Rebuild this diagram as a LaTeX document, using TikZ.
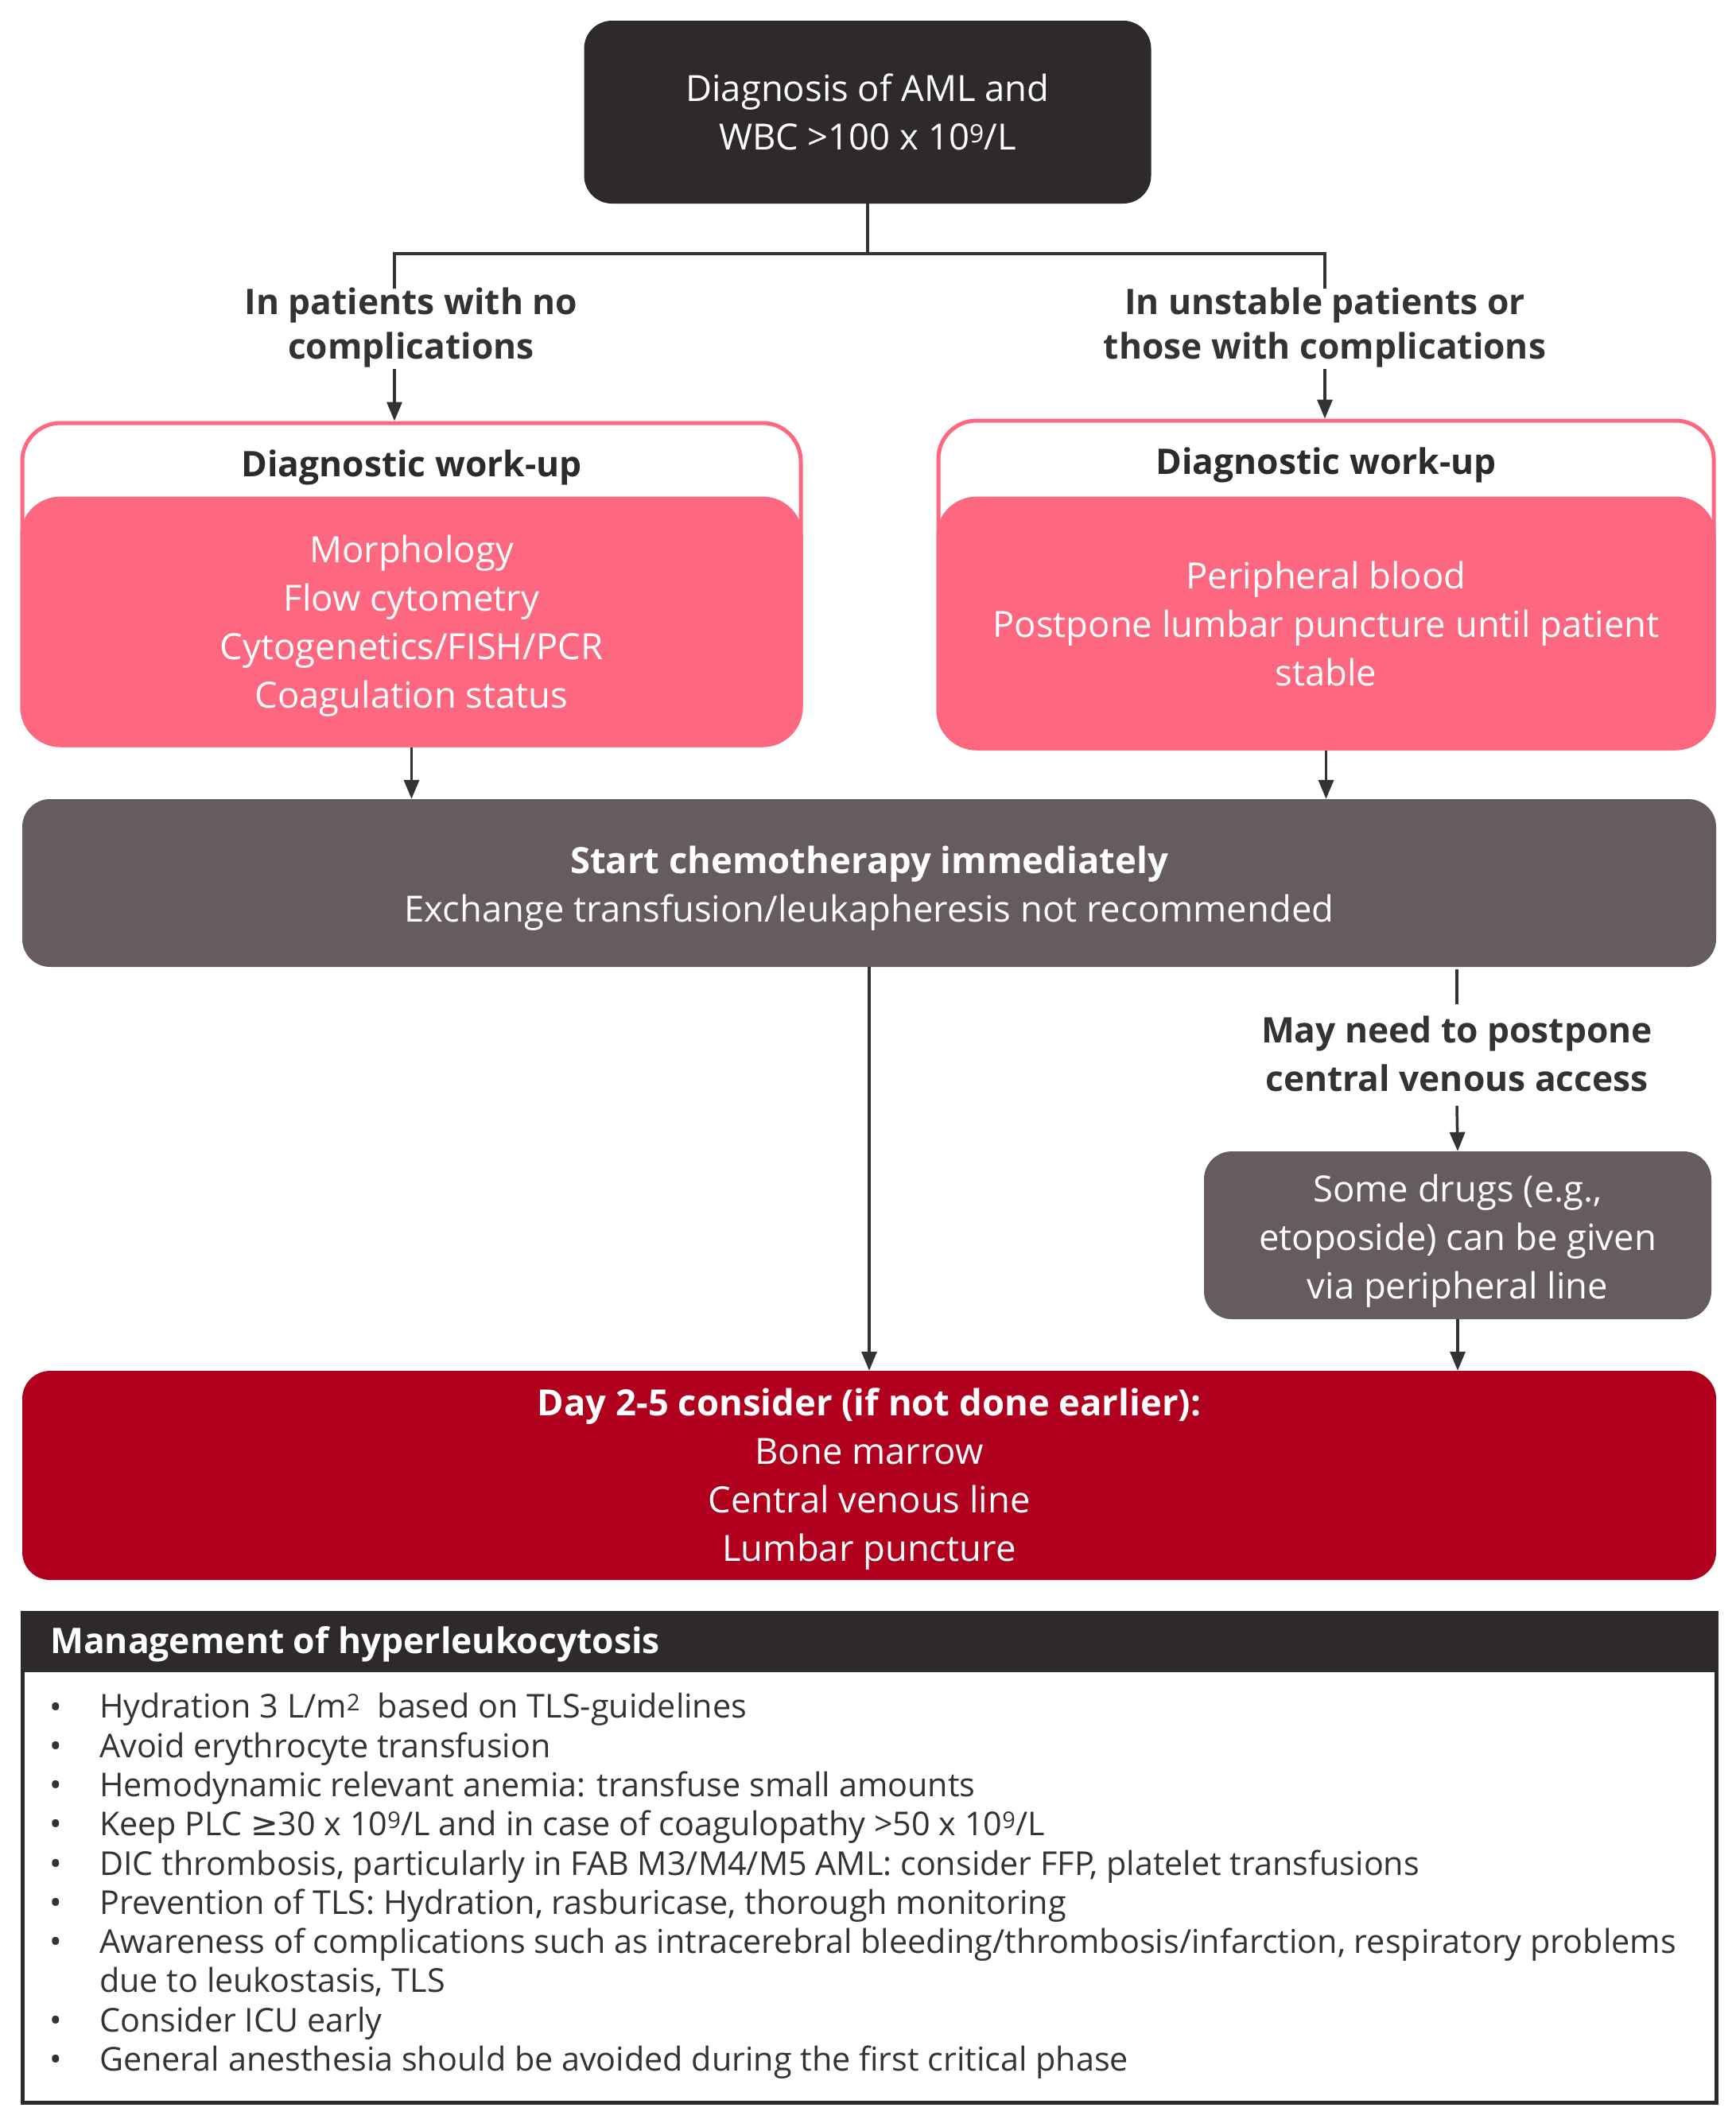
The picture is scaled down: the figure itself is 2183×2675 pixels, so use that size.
\documentclass[tikz,border=0pt]{standalone}
\usepackage{fontspec}
\setmainfont{Open Sans}
\newfontfamily\symfont{DejaVu Sans}
\usetikzlibrary{arrows.meta}

\definecolor{boxdark}{HTML}{2E2A2B}
\definecolor{wupink}{HTML}{FD6780}
\definecolor{chemogray}{HTML}{655B60}
\definecolor{dayred}{HTML}{B0001E}
\definecolor{linegray}{HTML}{333333}

% taller first line, pushes a box text down a little
\newcommand{\padtop}[1]{\rule{0pt}{#1}}

\tikzset{
  boxtxt/.style={font=\fontsize{45.4}{61}\selectfont},
  flowbox/.style={boxtxt, rounded corners=35pt, text=white, align=center, inner sep=0pt},
  wuouter/.style={draw=wupink, line width=5pt, fill=white, rounded corners=48pt, inner sep=0pt},
  wubody/.style={flowbox, draw=wupink, line width=5pt, fill=wupink, rounded corners=48pt},
  steplabel/.style={font=\fontsize{44.3}{56}\selectfont\bfseries, text=linegray, align=center, inner sep=0pt},
  connline/.style={draw=linegray, line width=3.5pt},
  connarrow/.style={connline, -{Triangle[length=24pt,width=19pt]}},
  itemtxt/.style={font=\fontsize{41.3}{49}\selectfont, text=linegray, inner sep=0pt},
}

\begin{document}
\begin{tikzpicture}[x=1pt, y=-1pt]
  \useasboundingbox[fill=white] (0,0) rectangle (2183,2675);

  % top box
  \node[flowbox, fill=boxdark, minimum width=713pt, minimum height=230pt] (diag) at (1091,141)
    {Diagnosis of AML and\\WBC >100 x 10\textsuperscript{9}/L};

  % branch
  \coordinate (brL) at (496,319);
  \coordinate (brR) at (1666,319);
  \node[steplabel, minimum height=109pt] (lblL) at (517,412) {In patients with no\\complications};
  \node[steplabel, minimum height=109pt] (lblR) at (1666,412) {In unstable patients or\\those with complications};
  \draw[connline] (diag.south) -- (diag.south |- brL);
  \draw[connline] ([yshift=-6pt]lblL.north -| brL) -- (brL) -- (brR) -- ([yshift=-6pt]lblR.north -| brR);

  % diagnostic work-up boxes
  \node[wuouter, minimum width=979pt, minimum height=405pt] (wuL) at (517.5,734.5) {};
  \node[wubody, minimum width=979pt, minimum height=310pt] (wuLbody) at (517.5,782)
    {\padtop{44.5pt}Morphology\\Flow cytometry\\Cytogenetics/FISH/PCR\\Coagulation status};
  \node[steplabel, text=boxdark] (wuLhead) at (517.5,588) {Diagnostic work-up};

  \node[wuouter, minimum width=975pt, minimum height=412pt] (wuR) at (1667.5,735) {};
  \node[wubody, minimum width=975pt, minimum height=314pt] (wuRbody) at (1667.5,784)
    {Peripheral blood\\Postpone lumbar puncture until patient\\stable};
  \node[steplabel, text=boxdark] (wuRhead) at (1667.5,585) {Diagnostic work-up};

  \draw[connarrow] ([yshift=3pt]lblL.south -| brL) -- (wuL.north -| brL);
  \draw[connarrow] ([yshift=3pt]lblR.south -| brR) -- (wuR.north -| brR);

  % chemotherapy
  \node[flowbox, fill=chemogray, minimum width=2130pt, minimum height=211pt] (chemo) at (1093,1110.5)
    {\padtop{48.5pt}\textbf{Start chemotherapy immediately}\\Exchange transfusion/leukapheresis not recommended};
  \draw[connarrow] (wuLbody.south) -- (wuLbody.south |- chemo.north);
  \draw[connarrow] (wuRbody.south) -- (wuRbody.south |- chemo.north);

  % venous access
  \node[steplabel, font=\fontsize{44.3}{61}\selectfont\bfseries, minimum height=127pt] (venous) at (1832,1325)
    {May need to postpone\\central venous access};
  \node[flowbox, fill=chemogray, minimum width=638pt, minimum height=211pt] (drugs) at (1833,1553.5)
    {\padtop{48.5pt}Some drugs (e.g.,\\etoposide) can be given\\via peripheral line};
  \draw[connline] ([yshift=-3pt]chemo.south -| venous.north) -- ([yshift=-2pt]venous.north);
  \draw[connarrow] ([yshift=-2pt]venous.south) -- (drugs.north);

  % day 2-5
  \node[flowbox, fill=dayred, minimum width=2130pt, minimum height=263pt] (day) at (1093,1855.5)
    {\padtop{44.5pt}\textbf{Day 2-5 consider (if not done earlier):}\\Bone marrow\\Central venous line\\Lumbar puncture};
  \draw[connarrow] (chemo.south) -- (chemo.south |- day.north);
  \draw[connarrow] (drugs.south) -- (drugs.south |- day.north);

  % management
  \node[draw=boxdark, line width=5pt, minimum width=2130pt, minimum height=616pt, inner sep=0pt] (mgmt) at (1093,2336) {};
  \fill[boxdark] (mgmt.north west) rectangle ([yshift=-77pt]mgmt.north east);
  \node[itemtxt, font=\fontsize{44.4}{49}\selectfont\bfseries, text=white, anchor=west] (mgmttitle) at (63,2068)
    {Management of hyperleukocytosis};
  \foreach \txt [count=\i] in {
      {Hydration 3 L/m\textsuperscript{2}\ \ based on TLS-guidelines},
      {Avoid erythrocyte transfusion},
      {Hemodynamic relevant anemia: transfuse small amounts},
      {Keep PLC {\symfont ≥}30 x 10\textsuperscript{9}/L and in case of coagulopathy >50 x 10\textsuperscript{9}/L},
      {DIC thrombosis, particularly in FAB M3/M4/M5 AML: consider FFP, platelet transfusions},
      {Prevention of TLS: Hydration, rasburicase, thorough monitoring},
      {Awareness of complications such as intracerebral bleeding/thrombosis/infarction, respiratory problems},
      {},
      {Consider ICU early},
      {General anesthesia should be avoided during the first critical phase}}
  {
    \node[itemtxt, anchor=west] (item\i) at (125,{2151+49.3*(\i-1)}) {\strut\txt};
  }
  \node[itemtxt, anchor=west] (item8) at (125,{2151+49.3*7}) {\strut due to leukostasis, TLS};
  \foreach \i in {1,...,7,9,10}
    \node[itemtxt] (bul\i) at (70,{2151+49.3*(\i-1)}) {•};
\end{tikzpicture}
\end{document}
